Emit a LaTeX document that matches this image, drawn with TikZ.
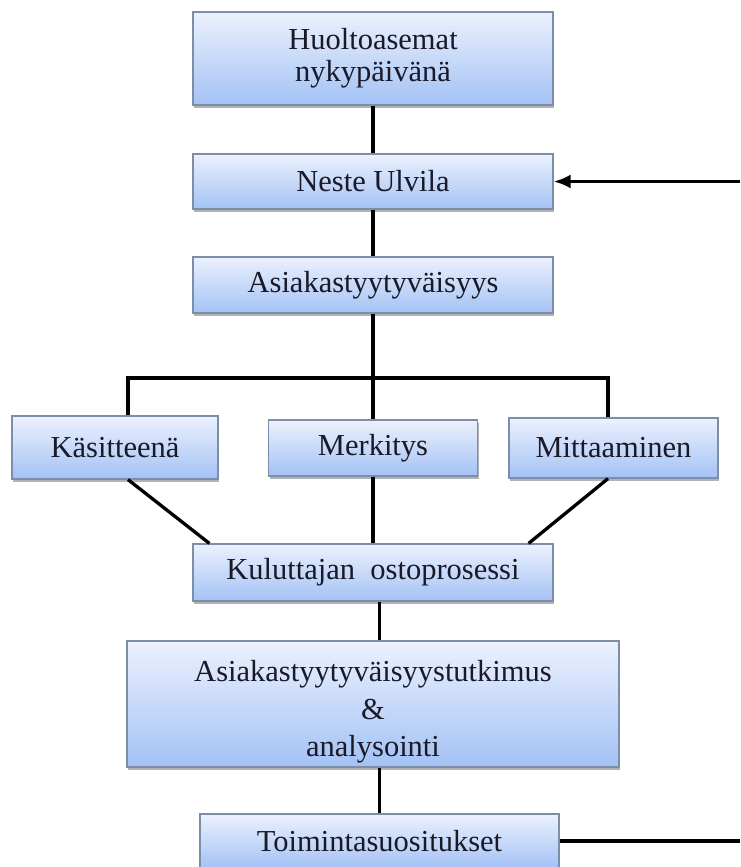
\documentclass[tikz,border=0pt]{standalone}
\usepackage{fontspec}
\setmainfont{Liberation Serif}
\usepackage{tikz}
\usetikzlibrary{arrows.meta,shadows}
\definecolor{laatikkoyla}{RGB}{236,241,253}
\definecolor{laatikkoala}{RGB}{163,194,245}
\definecolor{reuna}{RGB}{125,143,168}
\definecolor{teksti}{RGB}{25,25,40}

\begin{document}
\begin{tikzpicture}[x=1pt,y=-1pt,
    laatikko/.style={draw=reuna, line width=1.2pt,
        top color=laatikkoyla, bottom color=laatikkoala,
        drop shadow={shadow xshift=1pt,shadow yshift=-3pt,fill=black,opacity=0.3},
        inner sep=0pt, align=center, text=teksti,
        font=\fontsize{30.5}{32}\selectfont},
    viiva/.style={line width=3.3pt}]
    \useasboundingbox (0,0) rectangle (740,867);

    % ylaosa
    \node[laatikko, minimum width=360pt, minimum height=93pt] (huolto) at (373,58.5) {Huoltoasemat\\nykypäivänä};
    \node[laatikko, minimum width=360pt, minimum height=55pt] (neste) at (373,181.5) {Neste Ulvila};
    \node[laatikko, minimum width=360pt, minimum height=56pt] (tyyty) at (373,285) {Asiakastyytyväisyys};

    % kolme haaraa
    \node[laatikko, minimum width=206pt, minimum height=63pt] (kasite) at (115,447.5) {Käsitteenä};
    \node[laatikko, minimum width=209pt, minimum height=56pt] (merkitys) at (373,448) {Merkitys};
    \node[laatikko, minimum width=209pt, minimum height=60pt] (mittaus) at (613.5,448) {Mittaaminen};

    % alaosa
    \node[laatikko, minimum width=360pt, minimum height=57pt] (kuluttaja) at (373,572.5) {Kuluttajan\ \ ostoprosessi};
    \node[laatikko, minimum width=492pt, minimum height=126pt] (tutkimus) at (373,704) {\rule{0pt}{36pt}Asiakastyytyväisyystutkimus\\[6pt]\&\\[5pt]analysointi};
    \node[laatikko, minimum width=359pt, minimum height=54pt] (toiminta) at (379.5,841) {Toimintasuositukset};

    % palaute oikealla
    \coordinate (paluuyla) at (740,181.5);
    \coordinate (paluuala) at (740,841);
    \coordinate (haarav) at (128,378);
    \coordinate (haarao) at (608,378);

    % yhdysviivat
    \draw[viiva] (huolto) -- (neste);
    \draw[viiva] (neste) -- (tyyty);
    \draw[viiva] (tyyty.south) -- (merkitys.north);
    \draw[viiva] (haarav |- kasite.north) -- (haarav) -- (haarao) -- (haarao |- mittaus.north);
    \draw[viiva] (haarav |- kasite.south) -- ([xshift=17pt]kuluttaja.north west);
    \draw[viiva] (merkitys.south) -- (merkitys.south |- kuluttaja.north);
    \draw[viiva] (haarao |- mittaus.south) -- ([xshift=-25pt]kuluttaja.north east);
    \draw[viiva] (toiminta.north |- kuluttaja.south) -- (toiminta.north |- tutkimus.north);
    \draw[viiva] (toiminta.north |- tutkimus.south) -- (toiminta.north);
    \draw[viiva] (toiminta.east) -- (paluuala);
    \draw[viiva, -{Latex[length=17pt,width=14pt]}] (paluuyla) -- (neste.east);
\end{tikzpicture}
\end{document}
